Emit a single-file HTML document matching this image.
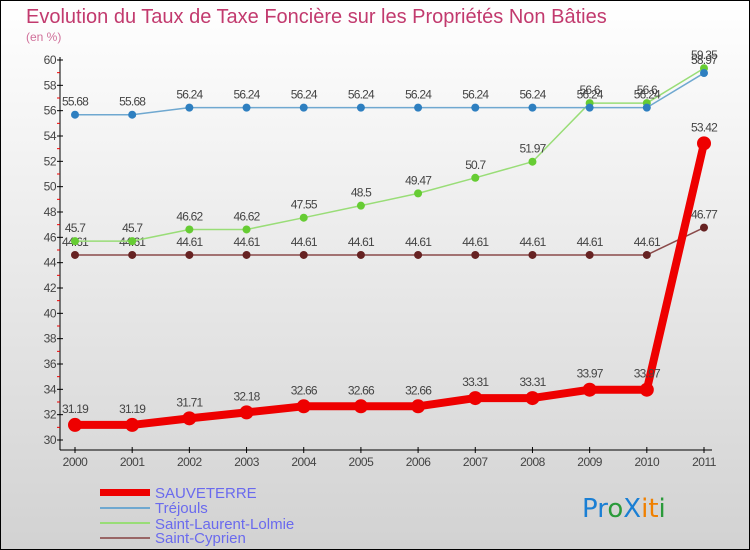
<!DOCTYPE html>
<html><head><meta charset="utf-8"><style>
html,body{margin:0;padding:0;}
body{width:750px;height:550px;overflow:hidden;font-family:"Liberation Sans",sans-serif;}
svg{display:block;}
</style></head><body>
<svg id="chart" width="750" height="550" xmlns="http://www.w3.org/2000/svg">
<defs><linearGradient id="bg" x1="0" y1="0" x2="0" y2="1"><stop offset="0" stop-color="#ffffff"/><stop offset="1" stop-color="#d2d2d2"/></linearGradient></defs>
<rect x="0.5" y="0.5" width="749" height="549" fill="url(#bg)" stroke="#000"/>
<text x="26" y="23" font-size="20" fill="#c23a6e">Evolution du Taux de Taxe Foncière sur les Propriétés Non Bâties</text>
<text x="26" y="41" font-size="12" fill="#d0709a">(en %)</text>
<g id="axes"></g><g id="series"></g>
<g font-size="15" fill="#6a6aee">
<rect x="100" y="489" width="50" height="7" fill="#ee0000"/>
<text x="155" y="498">SAUVETERRE</text>
<rect x="100" y="507" width="50" height="2" fill="#6fa8d0"/>
<text x="155" y="513">Tréjouls</text>
<rect x="100" y="522" width="50" height="2" fill="#99dd77"/>
<text x="155" y="529">Saint-Laurent-Lolmie</text>
<rect x="100" y="537" width="50" height="2" fill="#996666"/>
<text x="155" y="543">Saint-Cyprien</text>
</g>
<g font-size="26" font-family="'DejaVu Sans',sans-serif">
<text x="582" y="517"><tspan fill="#1a7fd4">Pr</tspan><tspan fill="#2a9a3a">o</tspan><tspan fill="#1a7fd4">X</tspan><tspan fill="#f08000">i</tspan><tspan fill="#f08000">t</tspan><tspan fill="#2a9a3a">i</tspan></text>
</g>
</svg>
<script>
const years=["2000","2001","2002","2003","2004","2005","2006","2007","2008","2009","2010","2011"];
const yTicks=[30,32,34,36,38,40,42,44,46,48,50,52,54,56,58,60];
const sauveterre=[31.19,31.19,31.71,32.18,32.66,32.66,32.66,33.31,33.31,33.97,33.97,53.42];
const trejouls=[55.68,55.68,56.24,56.24,56.24,56.24,56.24,56.24,56.24,56.24,56.24,58.97];
const saintLaurent=[45.7,45.7,46.62,46.62,47.55,48.5,49.47,50.7,51.97,56.6,56.6,59.35];
const saintCyprien=[44.61,44.61,44.61,44.61,44.61,44.61,44.61,44.61,44.61,44.61,44.61,46.77];
const NS="http://www.w3.org/2000/svg";
const x=i=>75+i*(629/11);
const y=v=>440-(v-30)*(380/30);
function mk(tag,attrs,parent){const e=document.createElementNS(NS,tag);for(const k in attrs)e.setAttribute(k,attrs[k]);parent.appendChild(e);return e;}
const ax=document.getElementById('axes');
const yl=mk('line',{x1:60,y1:57,x2:60,y2:450,stroke:'#000'},ax);


const xl=mk('line',{x1:60,y1:450,x2:712,y2:450,stroke:'#000'},ax);


yTicks.forEach(t=>{
  mk('line',{x1:57,x2:63,y1:y(t),y2:y(t),stroke:'#000'},ax);
  if(t<60)mk('line',{x1:57,x2:60,y1:y(t+1),y2:y(t+1),stroke:'#e00'},ax);
  const tx=mk('text',{x:56,y:y(t)+4,'text-anchor':'end','font-size':12,fill:'#444','letter-spacing':'-0.5'},ax);
  tx.textContent=t;
  
  
});
years.forEach((yr,i)=>{
  mk('line',{x1:x(i),x2:x(i),y1:447,y2:453,stroke:'#000'},ax);
  const tx=mk('text',{x:x(i),y:466,'text-anchor':'middle','font-size':12,fill:'#444','letter-spacing':'-0.5'},ax);
  tx.textContent=yr;
  
  
});
const sg=document.getElementById('series');
function draw(vals,name,color,dot,width,r,fs){
  const g=mk('g',{},sg);
  
  
  const p=mk('polyline',{points:vals.map((v,i)=>x(i)+','+y(v)).join(' '),fill:'none',stroke:color,'stroke-width':width,'stroke-linejoin':'round'},g);
  
  
  vals.forEach((v,i)=>{
    const c=mk('circle',{cx:x(i),cy:y(v),r:r,fill:dot},g);
    
    
    const t=mk('text',{x:x(i),y:y(v)-r-5,'text-anchor':'middle','font-size':fs,fill:'#444','letter-spacing':'-0.8'},g);
    t.textContent=v;
    
    
  });
}
draw(saintCyprien,'saint-cyprien','#8a4a4a','#662222',1.5,4,12);
draw(saintLaurent,'saint-laurent','#99dd77','#66cc33',1.5,4,12);
draw(trejouls,'trejouls','#6fa8d0','#2e7fc0',1.5,4,12);
draw(sauveterre,'sauveterre','#ee0000','#ee0000',8,7,12);
</script>
</body></html>
